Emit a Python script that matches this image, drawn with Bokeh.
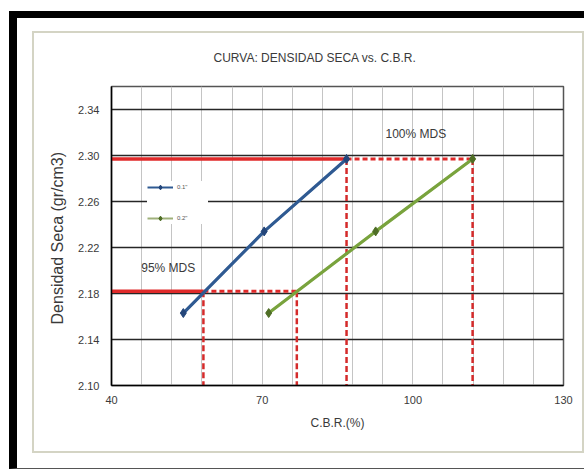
from bokeh.plotting import figure
from bokeh.models import (FixedTicker, NumeralTickFormatter, Label, Range1d, InlineStyleSheet,
                          Legend, LegendItem)
from bokeh.embed import file_html
from bokeh.resources import INLINE

# ---- data ----
title_text = "CURVA: DENSIDAD SECA vs. C.B.R."
x_label = "C.B.R.(%)"
y_label = "Densidad  Seca (gr/cm3)"
series_names = ['0.1"', '0.2"']
cbr_01 = [54.3, 70.4, 86.8]
dens_01 = [2.163, 2.234, 2.297]
cbr_02 = [71.3, 92.6, 111.9]
dens_02 = [2.163, 2.234, 2.297]
mds_100 = 2.297
mds_95 = 2.182
cbr_at_100 = [86.8, 111.9]
cbr_at_95 = [58.3, 76.9]
x_ticks = [40, 70, 100, 130]
y_ticks = [2.10, 2.14, 2.18, 2.22, 2.26, 2.30, 2.34]
x_min, x_max = 40, 130
y_min, y_max = 2.10, 2.36

FONT = "Liberation Sans"
TXT = "#3a3a3a"
BLUE = "#2f5a92"
GREEN = "#79a33d"
BLUE_M = "#24467a"
GREEN_M = "#4f6e26"
RED = "#e02a2a"

p = figure(width=584, height=469, x_range=Range1d(x_min, x_max), y_range=Range1d(y_min, y_max),
           output_backend="svg", toolbar_location=None,
           min_border_left=111, min_border_right=21, min_border_top=86, min_border_bottom=84)
p.background_fill_color = "white"
p.border_fill_alpha = 0
p.outline_line_color = "#555555"
p.outline_line_width = 1.5

# page decoration: outer black frame and inner light box
p.stylesheets = [InlineStyleSheet(css="""
:host { position: relative; background: white; }
:host::before { content: ""; position: absolute; box-sizing: border-box; left: 9px; top: 11px;
  right: 0px; bottom: 0px; border-top: 7px solid black; border-left: 8px solid black;
  border-bottom: 1px solid #555; pointer-events: none; }
:host::after { content: ""; position: absolute; box-sizing: border-box; left: 32px; top: 31px;
  width: 552px; height: 422px; border: 2px solid #d4d4c4; pointer-events: none; }
""")]

# title
p.title.text = title_text
p.title.text_font = FONT
p.title.text_font_size = "12px"
p.title.text_font_style = "normal"
p.title.text_color = TXT
p.title.align = "left"
p.title.offset = 102
p.title.vertical_align = "bottom"
p.title.standoff = 44

# axes
p.xaxis.ticker = FixedTicker(ticks=x_ticks)
p.yaxis.ticker = FixedTicker(ticks=y_ticks)
p.yaxis.formatter = NumeralTickFormatter(format="0.00")
for ax in (p.xaxis[0], p.yaxis[0]):
    ax.axis_line_color = "black"
    ax.axis_line_width = 1.5
    ax.major_tick_line_color = None
    ax.minor_tick_line_color = None
    ax.major_label_text_font = FONT
    ax.major_label_text_font_size = "11px"
    ax.major_label_text_color = TXT
    ax.axis_label_text_font = FONT
    ax.axis_label_text_font_style = "normal"
    ax.axis_label_text_color = TXT
p.xaxis.axis_label = x_label
p.yaxis.axis_label = y_label
p.xaxis.axis_label_text_font_size = "12px"
p.yaxis.axis_label_text_font_size = "16px"
p.xaxis.major_label_standoff = 4
p.yaxis.major_label_standoff = 6
p.xaxis.axis_label_standoff = 9
p.yaxis.axis_label_standoff = 9

# grids
p.xgrid.ticker = FixedTicker(ticks=list(range(x_min, x_max + 1, 6)))
p.xgrid.grid_line_color = "#c4c4c4"
p.xgrid.grid_line_width = 1
p.ygrid.ticker = FixedTicker(ticks=y_ticks)
p.ygrid.grid_line_color = "#262626"
p.ygrid.grid_line_width = 1.3

# MDS reference lines
p.line([x_min, cbr_at_100[0]], [mds_100, mds_100], line_color=RED, line_width=3.5)
p.line([cbr_at_100[0], cbr_at_100[1]], [mds_100, mds_100], line_color=RED, line_width=3, line_dash="5 3")
p.segment(x0=cbr_at_100, y0=[mds_100] * 2, x1=cbr_at_100, y1=[y_min] * 2,
          line_color="#d42a2a", line_width=2.5, line_dash="6 3")
p.line([x_min, cbr_at_95[0]], [mds_95, mds_95], line_color=RED, line_width=3.5)
p.line([cbr_at_95[0], cbr_at_95[1]], [mds_95, mds_95], line_color=RED, line_width=3, line_dash="5 3")
p.segment(x0=cbr_at_95, y0=[mds_95] * 2, x1=cbr_at_95, y1=[y_min] * 2,
          line_color="#d42a2a", line_width=2.5, line_dash="6 3")

# legend swatch renderers (thinner, drawn beneath the main series so they stay hidden)
lg_l1 = p.line(cbr_01, dens_01, line_color=BLUE, line_width=2)
lg_s1 = p.scatter(cbr_01, dens_01, marker="diamond", size=6, fill_color=BLUE_M, line_color=BLUE_M)
lg_l2 = p.line(cbr_02, dens_02, line_color="#9fb07a", line_width=2)
lg_s2 = p.scatter(cbr_02, dens_02, marker="diamond", size=6, fill_color=GREEN_M, line_color=GREEN_M)

# series
p.line(cbr_01, dens_01, line_color=BLUE, line_width=3.2)
p.scatter(cbr_01, dens_01, marker="diamond", size=9, fill_color=BLUE_M, line_color=BLUE_M)
p.line(cbr_02, dens_02, line_color=GREEN, line_width=3.2)
p.scatter(cbr_02, dens_02, marker="diamond", size=9, fill_color=GREEN_M, line_color=GREEN_M)

lg = Legend(items=[LegendItem(label=series_names[0], renderers=[lg_l1, lg_s1]),
                   LegendItem(label=series_names[1], renderers=[lg_l2, lg_s2])],
            location=(36, 161))
lg.border_line_color = None
lg.background_fill_color = "white"
lg.background_fill_alpha = 1
lg.label_text_font = FONT
lg.label_text_font_size = "6px"
lg.label_text_color = "#555555"
lg.padding = 12
lg.margin = 0
lg.spacing = 19
lg.glyph_width = 26
lg.glyph_height = 12
lg.label_height = 12
lg.label_width = 31
lg.label_standoff = 4
p.add_layout(lg)

# text labels inside the plot
p.add_layout(Label(x=100.6, y=2.319, text="100% MDS", text_font=FONT, text_font_size="12px",
                   text_color=TXT, text_align="center", text_baseline="middle"))
p.add_layout(Label(x=51.3, y=2.202, text="95% MDS", text_font=FONT, text_font_size="12px",
                   text_color=TXT, text_align="center", text_baseline="middle"))

open("out.html", "w").write(file_html(p, INLINE))
